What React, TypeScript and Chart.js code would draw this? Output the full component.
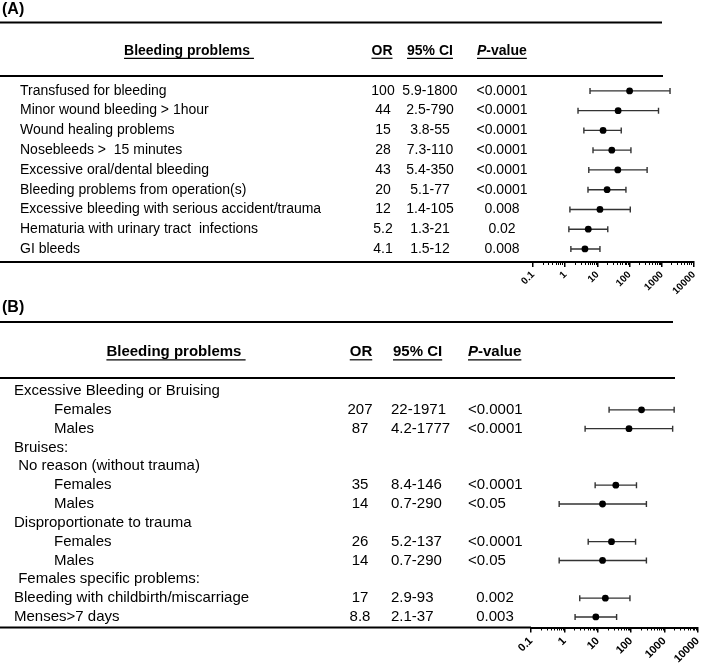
import React, { useEffect, useRef } from 'react';
import { Chart, registerables } from 'chart.js';

Chart.register(...registerables);

const FONT = '"Liberation Sans", Arial, Helvetica, sans-serif';

// ---------- Panel A data ----------
const aTitle = '(A)';
const aLabels = [
  'Transfused for bleeding',
  'Minor wound bleeding > 1hour',
  'Wound healing problems',
  'Nosebleeds >  15 minutes',
  'Excessive oral/dental bleeding',
  'Bleeding problems from operation(s)',
  'Excessive bleeding with serious accident/trauma',
  'Hematuria with urinary tract  infections',
  'GI bleeds',
];
const aLevel = [0, 0, 0, 0, 0, 0, 0, 0, 0];
const aOR = [100, 44, 15, 28, 43, 20, 12, 5.2, 4.1];
const aLow = [5.9, 2.5, 3.8, 7.3, 5.4, 5.1, 1.4, 1.3, 1.5];
const aHigh = [1800, 790, 55, 110, 350, 77, 105, 21, 12];
const aP = ['<0.0001', '<0.0001', '<0.0001', '<0.0001', '<0.0001', '<0.0001', '0.008', '0.02', '0.008'];

// ---------- Panel B data ----------
const bTitle = '(B)';
const bLabels = [
  'Excessive Bleeding or Bruising',
  'Females',
  'Males',
  'Bruises:',
  ' No reason (without trauma)',
  'Females',
  'Males',
  'Disproportionate to trauma',
  'Females',
  'Males',
  ' Females specific problems:',
  'Bleeding with childbirth/miscarriage',
  'Menses>7 days',
];
const bLevel = [0, 1, 1, 0, 0, 1, 1, 0, 1, 1, 0, 0, 0];
const bOR: (number | null)[] = [null, 207, 87, null, null, 35, 14, null, 26, 14, null, 17, 8.8];
const bLow: (number | null)[] = [null, 22, 4.2, null, null, 8.4, 0.7, null, 5.2, 0.7, null, 2.9, 2.1];
const bHigh: (number | null)[] = [null, 1971, 1777, null, null, 146, 290, null, 137, 290, null, 93, 37];
const bP = ['', '<0.0001', '<0.0001', '', '', '<0.0001', '<0.05', '', '<0.0001', '<0.05', '', '0.002', '0.003'];

// ---------- Shared texts / ticks ----------
const headItem = 'Bleeding problems ';
const headOR = 'OR';
const headCI = '95% CI';
const headPItalic = 'P';
const headPRest = '-value';
const xTickValues = [0.1, 1, 10, 100, 1000, 10000];

type Spec = {
  title: string;
  labels: string[];
  level: number[];
  or: (number | null)[];
  low: (number | null)[];
  high: (number | null)[];
  p: string[];
};

type Geo = {
  width: number;
  height: number;
  fontSize: number;
  tickFont: number;
  titleY: number;
  rule1Y: number;
  rule1R: number;
  headerY: number;
  rule2Y: number;
  rule2R: number;
  labelX: number[];
  itemHeadCX: number;
  orCX: number;
  orHeadCX: number;
  ciAlign: 'center' | 'left';
  ciX: number;
  ciHeadX: number;
  pLeftLt: number | null;
  pCenter: number;
  pHeadLeft: number;
  padTop: number;
  padLeft: number;
  padRight: number;
  targetBottom: number;
  yMax: number;
};

const geoA: Geo = {
  width: 709, height: 300, fontSize: 14, tickFont: 10,
  titleY: 10, rule1Y: 22.5, rule1R: 662, headerY: 51, rule2Y: 76, rule2R: 663,
  labelX: [20, 20], itemHeadCX: 189,
  orCX: 383, orHeadCX: 382, ciAlign: 'center', ciX: 430, ciHeadX: 430,
  pLeftLt: null, pCenter: 502, pHeadLeft: 477,
  padTop: 81, padLeft: 533, padRight: 15, targetBottom: 262, yMax: 8.66,
};

const geoB: Geo = {
  width: 709, height: 368, fontSize: 15, tickFont: 11,
  titleY: 8, rule1Y: 22, rule1R: 673, headerY: 52, rule2Y: 78, rule2R: 675,
  labelX: [14, 54], itemHeadCX: 176,
  orCX: 360, orHeadCX: 361, ciAlign: 'left', ciX: 391, ciHeadX: 393,
  pLeftLt: 468, pCenter: 495, pHeadLeft: 468,
  padTop: 81.6, padLeft: 531, padRight: 1, targetBottom: 327.5, yMax: 12.56,
};

function underline(ctx: CanvasRenderingContext2D, x1: number, x2: number, y: number) {
  ctx.save();
  ctx.strokeStyle = '#000';
  ctx.lineWidth = 1.2;
  ctx.beginPath();
  ctx.moveTo(x1, y);
  ctx.lineTo(x2, y);
  ctx.stroke();
  ctx.restore();
}

function hline(ctx: CanvasRenderingContext2D, x1: number, x2: number, y: number, w: number) {
  ctx.save();
  ctx.strokeStyle = '#000';
  ctx.lineWidth = w;
  ctx.beginPath();
  ctx.moveTo(x1, y);
  ctx.lineTo(x2, y);
  ctx.stroke();
  ctx.restore();
}

function makePlugin(spec: Spec, geo: Geo) {
  return {
    id: 'forestTable',
    beforeDatasetsDraw(chart: any) {
      const ctx: CanvasRenderingContext2D = chart.ctx;
      const xs = chart.scales.x;
      const ys = chart.scales.y;
      ctx.save();
      ctx.strokeStyle = '#333';
      ctx.lineWidth = 1.4;
      spec.or.forEach((v, i) => {
        const lo = spec.low[i];
        const hi = spec.high[i];
        if (v == null || lo == null || hi == null) return;
        const y = ys.getPixelForValue(i);
        const x1 = xs.getPixelForValue(lo);
        const x2 = xs.getPixelForValue(hi);
        ctx.beginPath();
        ctx.moveTo(x1, y);
        ctx.lineTo(x2, y);
        ctx.moveTo(x1, y - 3);
        ctx.lineTo(x1, y + 3);
        ctx.moveTo(x2, y - 3);
        ctx.lineTo(x2, y + 3);
        ctx.stroke();
      });
      ctx.restore();
    },
    afterDraw(chart: any) {
      const ctx: CanvasRenderingContext2D = chart.ctx;
      const xs = chart.scales.x;
      const ys = chart.scales.y;
      const area = chart.chartArea;
      const fs = geo.fontSize;
      ctx.save();
      ctx.fillStyle = '#000';
      ctx.textBaseline = 'middle';

      // title
      ctx.font = `bold 16px ${FONT}`;
      ctx.textAlign = 'left';
      ctx.fillText(spec.title, 2, geo.titleY);

      // rules
      hline(ctx, 0, geo.rule1R, geo.rule1Y, 2);
      hline(ctx, 0, geo.rule2R, geo.rule2Y, 2);
      hline(ctx, 0, area.left, area.bottom, 2);

      // headers
      ctx.font = `bold ${fs}px ${FONT}`;
      const uy = geo.headerY + fs * 0.52;
      let w = ctx.measureText(headItem).width;
      ctx.textAlign = 'left';
      ctx.fillText(headItem, geo.itemHeadCX - w / 2, geo.headerY);
      underline(ctx, geo.itemHeadCX - w / 2, geo.itemHeadCX + w / 2, uy);

      w = ctx.measureText(headOR).width;
      ctx.fillText(headOR, geo.orHeadCX - w / 2, geo.headerY);
      underline(ctx, geo.orHeadCX - w / 2, geo.orHeadCX + w / 2, uy);

      w = ctx.measureText(headCI).width;
      const ciL = geo.ciAlign === 'center' ? geo.ciHeadX - w / 2 : geo.ciHeadX;
      ctx.fillText(headCI, ciL, geo.headerY);
      underline(ctx, ciL, ciL + w, uy);

      ctx.font = `italic bold ${fs}px ${FONT}`;
      const wp = ctx.measureText(headPItalic).width;
      ctx.fillText(headPItalic, geo.pHeadLeft, geo.headerY);
      ctx.font = `bold ${fs}px ${FONT}`;
      const wr = ctx.measureText(headPRest).width;
      ctx.fillText(headPRest, geo.pHeadLeft + wp, geo.headerY);
      underline(ctx, geo.pHeadLeft, geo.pHeadLeft + wp + wr, uy);

      // rows
      ctx.font = `${fs}px ${FONT}`;
      spec.labels.forEach((label, i) => {
        const y = ys.getPixelForValue(i);
        ctx.textAlign = 'left';
        ctx.fillText(label, geo.labelX[spec.level[i]], y);
        const v = spec.or[i];
        if (v == null) return;
        ctx.textAlign = 'center';
        ctx.fillText(String(v), geo.orCX, y);
        const ci = `${spec.low[i]}-${spec.high[i]}`;
        ctx.textAlign = geo.ciAlign;
        ctx.fillText(ci, geo.ciX, y);
        const p = spec.p[i];
        if (geo.pLeftLt != null && p.startsWith('<')) {
          ctx.textAlign = 'left';
          ctx.fillText(p, geo.pLeftLt, y);
        } else {
          ctx.textAlign = 'center';
          ctx.fillText(p, geo.pCenter, y);
        }
      });

      // minor ticks on log axis
      ctx.strokeStyle = '#000';
      ctx.lineWidth = 1;
      ctx.beginPath();
      for (let e = -1; e < 4; e++) {
        for (let k = 2; k <= 9; k++) {
          const x = Math.round(xs.getPixelForValue(k * Math.pow(10, e))) + 0.5;
          ctx.moveTo(x, area.bottom);
          ctx.lineTo(x, area.bottom + 3);
        }
      }
      ctx.stroke();
      ctx.restore();
    },
  };
}

function buildChart(canvas: HTMLCanvasElement, spec: Spec, geo: Geo) {
  const points: { x: number; y: number }[] = [];
  spec.or.forEach((v, i) => {
    if (v != null) points.push({ x: v, y: i });
  });
  const chart = new Chart(canvas, {
    type: 'scatter',
    data: {
      datasets: [
        {
          data: points,
          pointRadius: 3.4,
          pointHoverRadius: 3.4,
          pointBackgroundColor: '#000',
          pointBorderColor: '#000',
          pointBorderWidth: 0,
        },
      ],
    },
    options: {
      responsive: false,
      animation: false,
      devicePixelRatio: 1,
      events: [],
      layout: { padding: { top: geo.padTop, left: geo.padLeft, right: geo.padRight, bottom: 0 } },
      plugins: { legend: { display: false }, tooltip: { enabled: false } },
      scales: {
        x: {
          type: 'logarithmic',
          min: 0.1,
          max: 10000,
          position: 'bottom',
          afterBuildTicks: (s: any) => {
            s.ticks = xTickValues.map((v) => ({ value: v, major: true }));
          },
          border: { display: true, color: '#000', width: 2 },
          grid: { drawOnChartArea: false, drawTicks: true, tickLength: 5, color: '#000', lineWidth: 1.5 },
          ticks: {
            autoSkip: false,
            minRotation: 45,
            maxRotation: 45,
            padding: 2,
            color: '#000',
            font: { family: FONT, size: geo.tickFont, weight: 'bold' },
            callback: (v: any) => String(v),
          },
        },
        y: { type: 'linear', display: false, reverse: true, min: -0.5, max: geo.yMax },
      },
    } as any,
    plugins: [makePlugin(spec, geo)],
  });
  // adjust bottom padding so the axis line sits where the table rule is
  const diff = chart.chartArea.bottom - geo.targetBottom;
  if (Math.abs(diff) > 0.1) {
    const pad = Math.max(0, diff);
    (chart.options.layout as any).padding.bottom = pad;
    chart.update();
  }
  return chart;
}

export default function App() {
  const refA = useRef<HTMLCanvasElement>(null);
  const refB = useRef<HTMLCanvasElement>(null);
  useEffect(() => {
    const specA: Spec = { title: aTitle, labels: aLabels, level: aLevel, or: aOR, low: aLow, high: aHigh, p: aP };
    const specB: Spec = { title: bTitle, labels: bLabels, level: bLevel, or: bOR, low: bLow, high: bHigh, p: bP };
    const cA = buildChart(refA.current!, specA, geoA);
    const cB = buildChart(refB.current!, specB, geoB);
    return () => {
      cA.destroy();
      cB.destroy();
    };
  }, []);
  return (
    <div style={{ position: 'fixed', left: 0, top: 0, width: 709, height: 668, background: '#fff' }}>
      <canvas ref={refA} width={709} height={300} style={{ position: 'absolute', left: 0, top: 0, width: 709, height: 300 }} />
      <canvas ref={refB} width={709} height={368} style={{ position: 'absolute', left: 0, top: 300, width: 709, height: 368 }} />
    </div>
  );
}
